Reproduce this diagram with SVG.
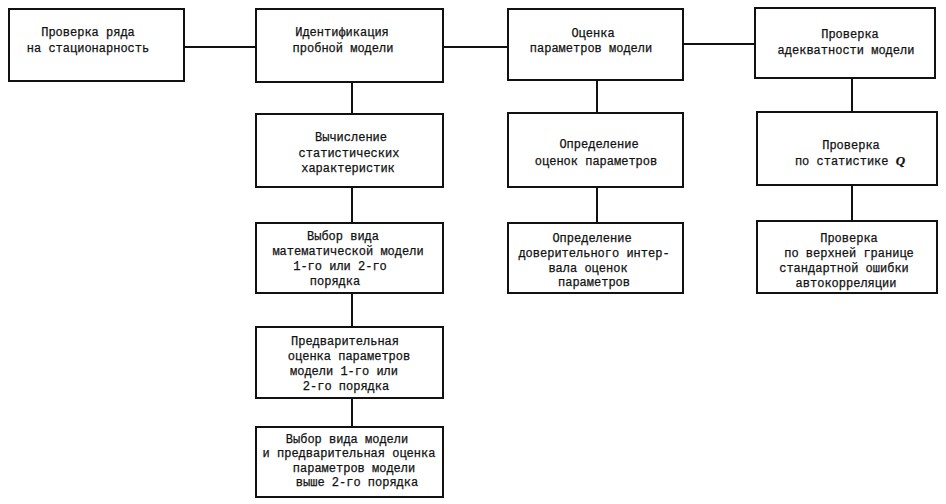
<svg xmlns="http://www.w3.org/2000/svg" width="946" height="504" viewBox="0 0 946 504">
<style>
rect.box{fill:#fff;stroke:#111;stroke-width:2}
.conn line{stroke:#111;stroke-width:2}
text{font-family:"Liberation Mono","DejaVu Sans Mono",monospace;font-size:12px;fill:#111;text-anchor:middle;stroke:#111;stroke-width:0.25}
.q{font-family:"Liberation Serif",serif;font-style:italic;font-weight:bold;font-size:13px}
</style>
<rect width="946" height="504" fill="#fff"/>
<g class="conn">
<line x1="184" y1="47" x2="256" y2="47"/>
<line x1="443" y1="47" x2="508" y2="47"/>
<line x1="683" y1="44" x2="755" y2="44"/>
<line x1="352" y1="82" x2="352" y2="114"/>
<line x1="352" y1="187" x2="352" y2="223"/>
<line x1="352" y1="293" x2="352" y2="327"/>
<line x1="352" y1="398" x2="352" y2="427"/>
<line x1="597" y1="80" x2="597" y2="113"/>
<line x1="597" y1="187" x2="597" y2="223"/>
<line x1="852" y1="78" x2="852" y2="112"/>
<line x1="852" y1="185" x2="852" y2="221"/>
</g>
<g id="n1">
<rect class="box" x="9" y="9" width="175" height="72"/>
<text x="88" y="36">Проверка ряда</text>
<text x="88" y="52">на стационарность</text>
</g>
<g id="n2">
<rect class="box" x="256" y="9" width="187" height="73"/>
<text x="342" y="36">Идентификация</text>
<text x="343" y="52">пробной модели</text>
</g>
<g id="n3">
<rect class="box" x="508" y="9" width="175" height="71"/>
<text x="593" y="37">Оценка</text>
<text x="591" y="52">параметров модели</text>
</g>
<g id="n4">
<rect class="box" x="755" y="8" width="180" height="70"/>
<text x="850" y="38">Проверка</text>
<text x="846" y="54">адекватности модели</text>
</g>
<g id="n5">
<rect class="box" x="256" y="114" width="187" height="73"/>
<text x="351" y="141">Вычисление</text>
<text x="349" y="157">статистических</text>
<text x="348" y="172">характеристик</text>
</g>
<g id="n6">
<rect class="box" x="256" y="223" width="187" height="70"/>
<text x="343" y="240">Выбор вида</text>
<text x="348" y="255">математической модели</text>
<text x="340" y="270">1-го или 2-го</text>
<text x="335" y="285">порядка</text>
</g>
<g id="n7">
<rect class="box" x="256" y="327" width="187" height="71"/>
<text x="345" y="345">Предварительная</text>
<text x="349" y="360">оценка параметров</text>
<text x="344" y="375">модели 1-го или</text>
<text x="346" y="390">2-го порядка</text>
</g>
<g id="n8">
<rect class="box" x="256" y="427" width="187" height="70"/>
<text x="347" y="443">Выбор вида модели</text>
<text x="349" y="457">и предварительная оценка</text>
<text x="354" y="472">параметров модели</text>
<text x="357" y="486">выше 2-го порядка</text>
</g>
<g id="n9">
<rect class="box" x="508" y="113" width="175" height="74"/>
<text x="599" y="148">Определение</text>
<text x="596" y="165">оценок параметров</text>
</g>
<g id="n10">
<rect class="box" x="508" y="223" width="175" height="70"/>
<text x="592" y="242">Определение</text>
<text x="594" y="257">доверительного интер-</text>
<text x="588" y="272">вала оценок</text>
<text x="594" y="286">параметров</text>
</g>
<g id="n11">
<rect class="box" x="757" y="112" width="180" height="73"/>
<text x="851" y="149">Проверка</text>
<text x="850" y="165">по статистике <tspan class="q">Q</tspan></text>
</g>
<g id="n12">
<rect class="box" x="757" y="221" width="180" height="72"/>
<text x="849" y="242">Проверка</text>
<text x="849" y="257">по верхней границе</text>
<text x="844" y="272">стандартной ошибки</text>
<text x="846" y="287">автокорреляции</text>
</g>
</svg>
